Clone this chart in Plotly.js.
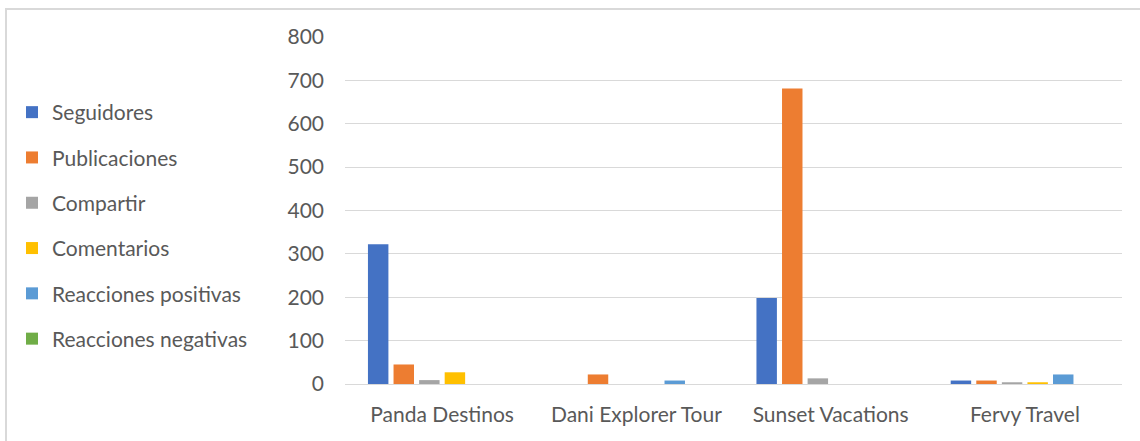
<!DOCTYPE html>
<html>
<head>
<meta charset="utf-8">
<script src="https://cdn.plot.ly/plotly-3.0.1.min.js"></script>
<style>
html,body{margin:0;padding:0;background:#fff;}
#chart{width:1140px;height:441px;position:relative;}
#frame{position:absolute;left:5px;top:8px;width:1160px;height:460px;border:2px solid #d9d9d9;pointer-events:none;box-sizing:border-box;}
</style>
</head>
<body>
<div id="chart"></div>
<div id="frame"></div>
<script>
const categories = ["Panda Destinos", "Dani Explorer Tour", "Sunset Vacations", "Fervy Travel"];
const seguidores = [322, 0, 198, 8];
const publicaciones = [45, 22, 681, 8];
const compartir = [9, 0, 13, 4];
const comentarios = [27, 0, 0, 4];
const reaccionesPositivas = [0, 8, 0, 22];
const reaccionesNegativas = [0, 0, 0, 0];
const seriesNames = ["Seguidores", "Publicaciones", "Compartir", "Comentarios", "Reacciones positivas", "Reacciones negativas"];
const seriesValues = [seguidores, publicaciones, compartir, comentarios, reaccionesPositivas, reaccionesNegativas];
const colors = ["#4472C4", "#ED7D31", "#A5A5A5", "#FFC000", "#5B9BD5", "#70AD47"];
const yTicks = [0, 100, 200, 300, 400, 500, 600, 700, 800];

const font = {family: "Lato, 'Open Sans', sans-serif", size: 21, color: "#595959"};

const data = seriesNames.map((n, i) => ({
  type: "bar",
  name: n,
  x: categories,
  y: seriesValues[i],
  marker: {color: colors[i]},
  legendgroup: "g" + i,
  hoverinfo: "x+y+name"
}));

const layout = {
  width: 1140,
  height: 441,
  margin: {l: 345, r: 18, t: 37, b: 57},
  paper_bgcolor: "#ffffff",
  plot_bgcolor: "#ffffff",
  font: font,
  barmode: "group",
  bargap: 0.21,
  bargroupgap: 0.2,
  showlegend: true,
  legend: {
    xref: "container", yref: "container",
    x: 12 / 1140, y: 1 - 92 / 441,
    xanchor: "left", yanchor: "top",
    tracegroupgap: 15,
    maxheight: 1,
    font: font,
    itemwidth: 30,
    bgcolor: "rgba(0,0,0,0)"
  },
  xaxis: {
    type: "category",
    showgrid: false,
    showline: true,
    linecolor: "#d9d9d9",
    linewidth: 1,
    ticks: "",
    ticklabelstandoff: 12,
    tickfont: font,
    fixedrange: true
  },
  yaxis: {
    range: [0, 800],
    tickvals: yTicks,
    ticktext: yTicks.map(String),
    showgrid: true,
    gridcolor: "#d9d9d9",
    gridwidth: 1,
    zeroline: false,
    showline: false,
    ticks: "",
    ticklabelstandoff: 20,
    tickfont: font,
    fixedrange: true
  }
};

Plotly.newPlot("chart", data, layout, {displayModeBar: false, staticPlot: true});
</script>
</body>
</html>
